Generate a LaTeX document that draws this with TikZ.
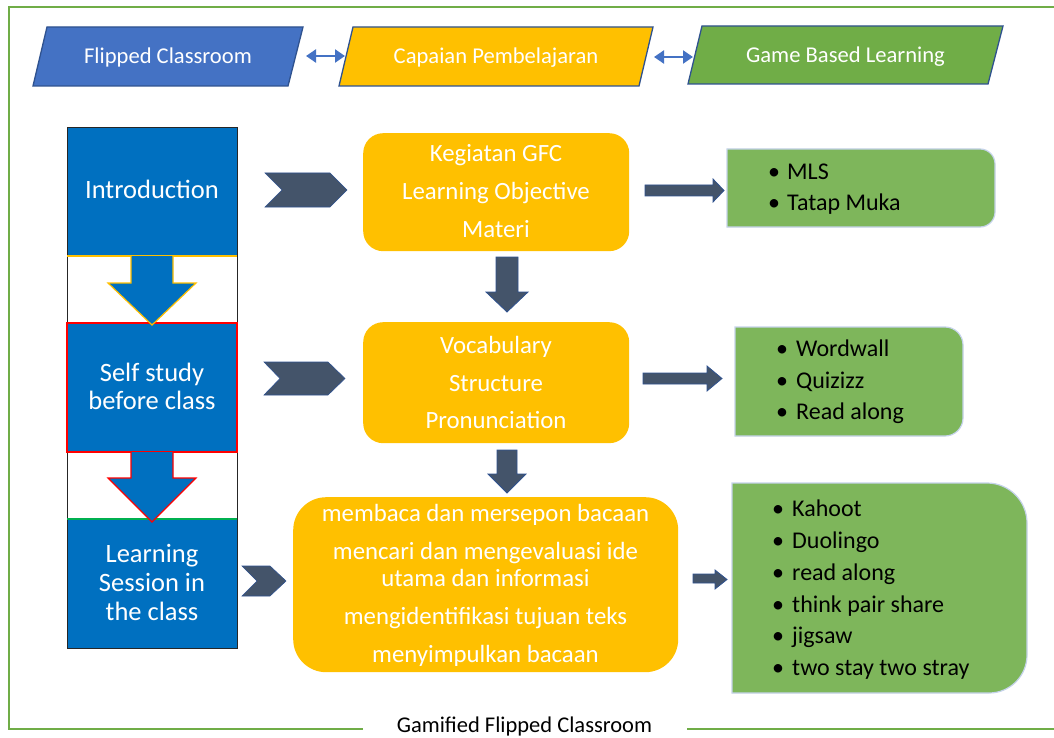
\documentclass[tikz,border=0pt]{standalone}
\usepackage{fontspec}
\setmainfont{Carlito}
\usetikzlibrary{arrows.meta}
\definecolor{frameG}{HTML}{70AD47}
\definecolor{paraBlue}{HTML}{4472C4}
\definecolor{paraYellow}{HTML}{FFC000}
\definecolor{paraGreen}{HTML}{70AD47}
\definecolor{paraB}{HTML}{2F528F}
\definecolor{dblB}{HTML}{4472C4}
\definecolor{colB}{HTML}{0070C0}
\definecolor{slate}{HTML}{44546A}
\definecolor{boxY}{HTML}{FFC000}
\definecolor{boxG}{HTML}{7EB65B}
\definecolor{gBorder}{HTML}{C5D3EA}
\definecolor{lineG}{HTML}{00B050}
\definecolor{lineR}{HTML}{FF0000}
\begin{document}
\begin{tikzpicture}[x=1pt,y=1pt,line join=miter,
  para/.style={draw=paraB,line width=1.3pt},
  paratext/.style={text=white,font=\fontsize{22.6}{27}\selectfont,anchor=base,inner sep=0pt},
  coltext/.style={text=white,font=\fontsize{26.5}{29}\selectfont,anchor=base,inner sep=0pt},
  ytext/.style={text=white,font=\fontsize{24.8}{27}\selectfont,anchor=base,inner sep=0pt},
  gtext/.style={text=black,font=\fontsize{24}{27}\selectfont,anchor=base west,inner sep=0pt},
  bul/.style={text=black,font=\fontsize{24}{27}\selectfont,anchor=base,inner sep=0pt},
  chev/.style={fill=slate,draw=paraB,line width=0.6pt},
  blockarrow/.style={fill=slate,draw=paraB,line width=0.8pt},
  dbl/.style={draw=dblB,line width=2.2pt,{Triangle[length=10pt,width=13pt]}-{Triangle[length=10pt,width=13pt]}},
  ybox/.style={fill=boxY,inner sep=0pt,anchor=north west},
  gbox/.style={fill=boxG,draw=gBorder,line width=1.2pt}
]
\useasboundingbox (0,0) rectangle (1054,-738);
\fill[white] (0,0) rectangle (1054,-738);

% frame
\draw[frameG,line width=1.5pt] (1054,-7) -- (9,-7) -- (9,-729) -- (363,-729);
\draw[frameG,line width=2pt] (687,-729) -- (1054,-729);
\node[text=black,font=\fontsize{22.5}{27}\selectfont,anchor=base,inner sep=0pt] (cap) at (524.5,-732) {Gamified Flipped Classroom};

% top parallelograms
\draw[para,fill=paraBlue] (47,-27) -- (303,-27) -- (288,-86) -- (33,-86) -- cycle;
\draw[para,fill=paraYellow] (353,-27) -- (653,-27) -- (639,-86) -- (339,-86) -- cycle;
\draw[para,fill=paraGreen] (702,-26) -- (1003,-26) -- (988,-84) -- (688,-84) -- cycle;
\node[paratext] (fc) at (168,-64) {Flipped Classroom};
\node[paratext] (cp) at (496,-64) {Capaian Pembelajaran};
\node[paratext] (gbl) at (845.5,-62.5) {Game Based Learning};
\coordinate (d1a) at (306,-56);
\coordinate (d1b) at (345,-56);
\coordinate (d2a) at (654,-57);
\coordinate (d2b) at (693,-57);
\draw[dbl] (d1a) -- (d1b);
\draw[dbl] (d2a) -- (d2b);

% left column
\fill[colB] (67,-127) rectangle (237,-256);
\fill[colB] (67,-323) rectangle (237,-452);
\fill[colB] (67,-519) rectangle (237,-648);
\draw[black!85,line width=0.9pt] (67,-127) rectangle (237,-648);
\draw[lineR,line width=1.2pt] (67,-323) rectangle (237,-452);
\draw[lineG,line width=1.3pt] (67,-519) -- (237,-519);
\draw[boxY,line width=1.2pt] (67,-256) -- (237,-256);
\draw[fill=colB,draw=boxY,line width=1.2pt] (131,-256) -- (131,-283) -- (108,-283) -- (152,-325) -- (196,-283) -- (173,-283) -- (173,-256);
\draw[fill=colB,draw=lineR,line width=1.2pt] (131,-452) -- (131,-478) -- (108,-478) -- (152,-522) -- (196,-478) -- (173,-478) -- (173,-452);
\node[coltext] (intro) at (152,-198) {Introduction};
\node[coltext] (ss1) at (152,-381) {Self study};
\node[coltext] (ss2) at (152,-409) {before class};
\node[coltext] (ls1) at (152,-562) {Learning};
\node[coltext] (ls2) at (152,-591) {Session in};
\node[coltext] (ls3) at (152,-620) {the class};

% chevrons
\draw[chev] (265,-173) -- (330,-173) -- (347,-190) -- (330,-207) -- (265,-207) -- (282,-190) -- cycle;
\draw[chev] (264,-362) -- (328,-362) -- (345,-378.5) -- (328,-395) -- (264,-395) -- (280,-378.5) -- cycle;
\draw[chev] (242,-566) -- (270,-566) -- (286,-581) -- (270,-596) -- (242,-596) -- (257,-581) -- cycle;

% yellow boxes
\node[ybox,rounded corners=20pt,minimum width=266pt,minimum height=118pt] (y1) at (363,-133) {};
\node[ybox,rounded corners=20pt,minimum width=266pt,minimum height=121pt] (y2) at (363,-322) {};
\node[ybox,rounded corners=33pt,minimum width=385pt,minimum height=175pt] (y3) at (293,-497) {};
\node[ytext] (t11) at (496,-162) {Kegiatan GFC};
\node[ytext] (t12) at (496,-199.5) {Learning Objective};
\node[ytext] (t13) at (496,-237) {Materi};
\node[ytext] (t21) at (496,-353) {Vocabulary};
\node[ytext] (t22) at (496,-391) {Structure};
\node[ytext] (t23) at (496,-428) {Pronunciation};
\node[ytext] (t31) at (485.5,-521) {membaca dan mersepon bacaan};
\node[ytext] (t32) at (485.5,-559) {mencari dan mengevaluasi ide};
\node[ytext] (t33) at (485.5,-586) {utama dan informasi};
\node[ytext] (t34) at (485.5,-624) {mengidentifikasi tujuan teks};
\node[ytext] (t35) at (485.5,-662) {menyimpulkan bacaan};

% down block arrows
\draw[blockarrow] (496,-257) -- (518,-257) -- (518,-292) -- (528,-292) -- (507,-312) -- (486,-292) -- (496,-292) -- cycle;
\draw[blockarrow] (497,-450) -- (517,-450) -- (517,-474) -- (526,-474) -- (507,-493) -- (488,-474) -- (497,-474) -- cycle;

% right block arrows
\draw[blockarrow] (645,-185) -- (713,-185) -- (713,-179) -- (724,-190.5) -- (713,-202) -- (713,-196) -- (645,-196) -- cycle;
\draw[blockarrow] (643,-373) -- (707,-373) -- (707,-366) -- (722,-378.5) -- (707,-391) -- (707,-384) -- (643,-384) -- cycle;
\draw[blockarrow] (693,-574) -- (715,-574) -- (715,-570) -- (727,-579.5) -- (715,-589) -- (715,-583) -- (693,-583) -- cycle;

% green boxes
\draw[gbox] (727,-149) -- (980,-149) arc[start angle=90,end angle=0,radius=15] -- (995,-212) arc[start angle=0,end angle=-90,radius=15] -- (727,-227) -- cycle;
\draw[gbox] (735,-327) -- (945,-327) arc[start angle=90,end angle=0,radius=18] -- (963,-418) arc[start angle=0,end angle=-90,radius=18] -- (735,-436) -- cycle;
\draw[gbox] (732,-483) -- (987,-483) arc[start angle=90,end angle=0,radius=40] -- (1027,-655) arc[start angle=0,end angle=-90,radius=38] -- (732,-693) -- cycle;

\node[bul] (b11) at (774,-179) {\textbullet};
\node[gtext] (g11) at (787,-179) {MLS};
\node[bul] (b12) at (774,-211) {\textbullet};
\node[gtext] (g12) at (787,-211) {Tatap Muka};

\node[bul] (b21) at (782,-356) {\textbullet};
\node[gtext] (g21) at (796,-356) {Wordwall};
\node[bul] (b22) at (782,-388) {\textbullet};
\node[gtext] (g22) at (796,-388) {Quizizz};
\node[bul] (b23) at (782,-419) {\textbullet};
\node[gtext] (g23) at (796,-419) {Read along};

\node[bul] (b31) at (778,-516) {\textbullet};
\node[gtext] (g31) at (792,-516) {Kahoot};
\node[bul] (b32) at (778,-548) {\textbullet};
\node[gtext] (g32) at (792,-548) {Duolingo};
\node[bul] (b33) at (778,-580) {\textbullet};
\node[gtext] (g33) at (792,-580) {read along};
\node[bul] (b34) at (778,-612) {\textbullet};
\node[gtext] (g34) at (792,-612) {think pair share};
\node[bul] (b35) at (778,-643) {\textbullet};
\node[gtext] (g35) at (792,-643) {jigsaw};
\node[bul] (b36) at (778,-675) {\textbullet};
\node[gtext] (g36) at (792,-675) {two stay two stray};
\end{tikzpicture}
\end{document}
